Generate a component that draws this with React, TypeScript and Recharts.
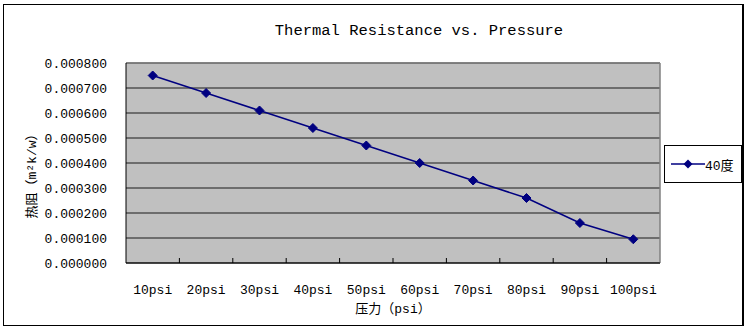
import React from "react";
import {
  LineChart,
  Line,
  XAxis,
  YAxis,
  CartesianGrid,
  ReferenceLine,
  Legend,
} from "recharts";

const categories = [
  "10psi",
  "20psi",
  "30psi",
  "40psi",
  "50psi",
  "60psi",
  "70psi",
  "80psi",
  "90psi",
  "100psi",
];
const resistance40 = [
  0.00075, 0.00068, 0.00061, 0.00054, 0.00047, 0.0004, 0.00033, 0.00026,
  0.00016, 0.000095,
];
const yTicks = [
  0, 0.0001, 0.0002, 0.0003, 0.0004, 0.0005, 0.0006, 0.0007, 0.0008,
];
const seriesName = "40度";

const NAVY = "#000080";
const MONO = "'Liberation Mono', 'Noto Sans CJK SC', monospace";
const CJK = "'Liberation Mono', 'Noto Sans CJK SC', sans-serif";

const data = categories.map((c, i) => ({ cat: c, v: resistance40[i] }));

const Diamond = (props: any) => {
  const { cx, cy } = props;
  if (cx == null || cy == null) return null;
  const r = 4.5;
  return (
    <polygon
      points={`${cx},${cy - r} ${cx + r},${cy} ${cx},${cy + r} ${cx - r},${cy}`}
      fill={NAVY}
      stroke={NAVY}
    />
  );
};

// label at band centre, tick mark at the band's right edge (Excel style)
const CatTick = (props: any) => {
  const { x, y, payload, index } = props;
  const half = payload?.offset ?? 0;
  return (
    <g>
      {index < categories.length - 1 && (
        <line
          x1={x + half}
          x2={x + half}
          y1={y}
          y2={y - 5}
          stroke="#000"
          strokeWidth={1}
        />
      )}
      <text
        x={x}
        y={y + 31}
        textAnchor="middle"
        fill="#000"
        fontSize={13}
        fontFamily={MONO}
      >
        {payload.value}
      </text>
    </g>
  );
};

const LegendBox = () => (
  <div
    style={{
      width: 76,
      height: 36,
      border: "1px solid #000",
      background: "#fff",
      display: "flex",
      alignItems: "center",
      boxSizing: "content-box",
    }}
  >
    <svg width={34} height={12} style={{ marginLeft: 6 }}>
      <line x1={0} y1={6} x2={34} y2={6} stroke={NAVY} strokeWidth={1.5} />
      <polygon points="17,1.5 21.5,6 17,10.5 12.5,6" fill={NAVY} />
    </svg>
    <span style={{ fontFamily: CJK, fontSize: 13, color: "#000" }}>
      {seriesName}
    </span>
  </div>
);

export default function App() {
  return (
    <div
      style={{
        position: "absolute",
        left: 0,
        top: 0,
        width: 755,
        height: 336,
        background: "#fff",
      }}
    >
      <div
        style={{
          position: "absolute",
          left: 3,
          top: 4,
          width: 738,
          height: 320,
          borderTop: "1px solid #000",
          borderLeft: "1px solid #000",
          borderBottom: "1px solid #000",
          borderRight: "2px solid #000",
        }}
      />
      <div
        style={{
          position: "absolute",
          left: 219,
          top: 22,
          width: 400,
          textAlign: "center",
          fontFamily: MONO,
          fontSize: 15.5,
          color: "#000",
        }}
      >
        Thermal Resistance vs. Pressure
      </div>
      <div
        style={{
          position: "absolute",
          left: 30,
          top: 173,
          transform: "translate(-50%, -50%) rotate(-90deg)",
          whiteSpace: "nowrap",
          fontFamily: CJK,
          fontSize: 13,
          color: "#000",
        }}
      >
        热阻（m²k/w）
      </div>
      <div
        style={{
          position: "absolute",
          left: 293,
          top: 298,
          width: 200,
          textAlign: "center",
          fontFamily: CJK,
          fontSize: 13,
          color: "#000",
        }}
      >
        压力（psi）
      </div>
      <LineChart
        width={755}
        height={336}
        data={data}
        margin={{ top: 63, right: 95, bottom: 43, left: 0 }}
        style={{ position: "absolute", left: 0, top: 0 }}
      >
        <CartesianGrid
          vertical={false}
          fill="#C0C0C0"
          fillOpacity={1}
          stroke="#1a1a1a"
          strokeWidth={1}
        />
        <XAxis
          dataKey="cat"
          scale="band"
          height={30}
          axisLine={{ stroke: "#000" }}
          tickLine={false}
          tickSize={0}
          tickMargin={0}
          interval={0}
          tick={<CatTick />}
        />
        <YAxis
          width={126}
          domain={[0, 0.0008]}
          ticks={yTicks}
          interval={0}
          tickFormatter={(v: number) => v.toFixed(6)}
          axisLine={{ stroke: "#000" }}
          tickLine={false}
          tickSize={0}
          tickMargin={19}
          tick={{ fill: "#000", fontSize: 13, fontFamily: MONO }}
        />
        <ReferenceLine y={0.0008} stroke="#808080" strokeWidth={1.5} />
        <ReferenceLine
          x={categories[categories.length - 1]}
          position="end"
          stroke="#808080"
          strokeWidth={1.5}
        />
        <Legend
          layout="horizontal"
          verticalAlign="middle"
          align="center"
          wrapperStyle={{ left: 664, top: 145, width: 78 }}
          content={() => <LegendBox />}
        />
        <Line
          dataKey="v"
          name={seriesName}
          stroke={NAVY}
          strokeWidth={1.5}
          dot={<Diamond />}
          activeDot={false}
          isAnimationActive={false}
        />
      </LineChart>
    </div>
  );
}
